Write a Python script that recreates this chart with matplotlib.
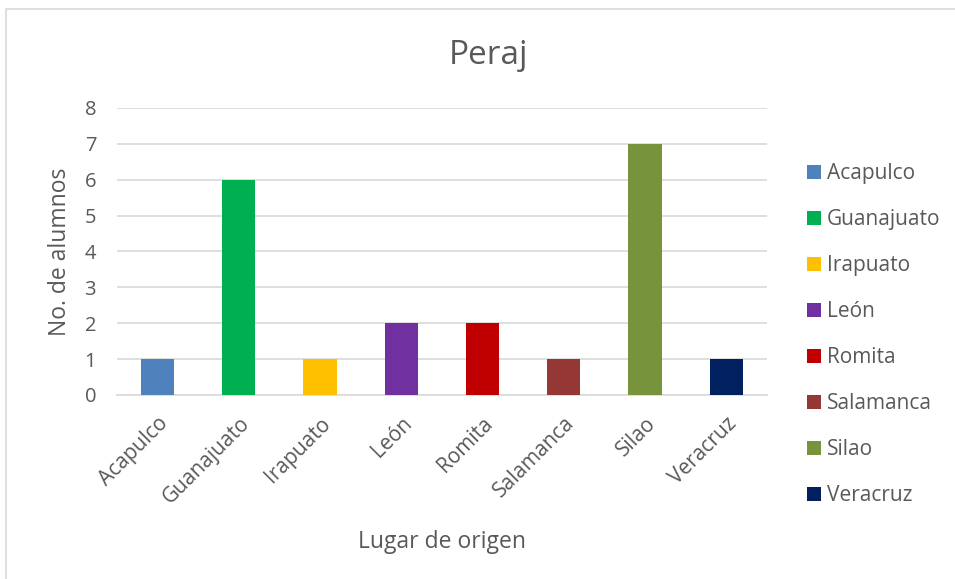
import matplotlib
matplotlib.use('Agg')
import matplotlib.pyplot as plt
from matplotlib.patches import Patch, Rectangle

lugares = ['Acapulco', 'Guanajuato', 'Irapuato', 'León', 'Romita', 'Salamanca', 'Silao', 'Veracruz']
alumnos = [1, 6, 1, 2, 2, 1, 7, 1]
colores = ['#4f81bd', '#00b050', '#ffc000', '#7030a0', '#c00000', '#953735', '#77933c', '#002060']

plt.rcParams['font.family'] = ['Open Sans', 'DejaVu Sans']
gris = '#595959'

fig = plt.figure(figsize=(9.55, 5.79), dpi=100)
ax = fig.add_axes([0.1225, 0.318, 0.6805, 0.4955])

# borde del grafico
fig.patches.append(Rectangle((0.006, -0.01), 1.1, 0.995, transform=fig.transFigure,
                             fill=False, edgecolor='#d9d9d9', linewidth=1.2))

x = range(len(lugares))
ax.bar(x, alumnos, width=0.41, color=colores, zorder=3)

ax.set_xlim(-0.5, len(lugares) - 0.5)
ax.set_ylim(0, 8)
ax.set_yticks(range(0, 9))
ax.yaxis.grid(True, color='#d9d9d9', linewidth=1.2, zorder=0)
for s in ['top', 'right', 'left']:
    ax.spines[s].set_visible(False)
ax.spines['bottom'].set_color('#d9d9d9')
ax.spines['bottom'].set_linewidth(1.2)
ax.tick_params(length=0, colors=gris)
ax.tick_params(axis='y', pad=15, labelsize=14.5)
ax.tick_params(axis='x', pad=13, labelsize=15)
ax.set_xticks(list(x))
ax.set_xticklabels(lugares, rotation=45, ha='right', rotation_mode='anchor')

fig.text(0.511, 0.905, 'Peraj', fontsize=24, color=gris, ha='center', va='center')
ax.set_ylabel('No. de alumnos', fontsize=16.5, color=gris, labelpad=9)
ax.set_xlabel('Lugar de origen', fontsize=16.5, color=gris, labelpad=16)

handles = [Patch(facecolor=c, label=l) for c, l in zip(colores, lugares)]
ax.legend(handles=handles, loc='center left', bbox_to_anchor=(1.033, 0.21),
          frameon=False, fontsize=15, labelcolor=gris, handlelength=0.65,
          handleheight=0.65, handletextpad=0.3, labelspacing=1.2)

fig.savefig('out.png', dpi=100)
